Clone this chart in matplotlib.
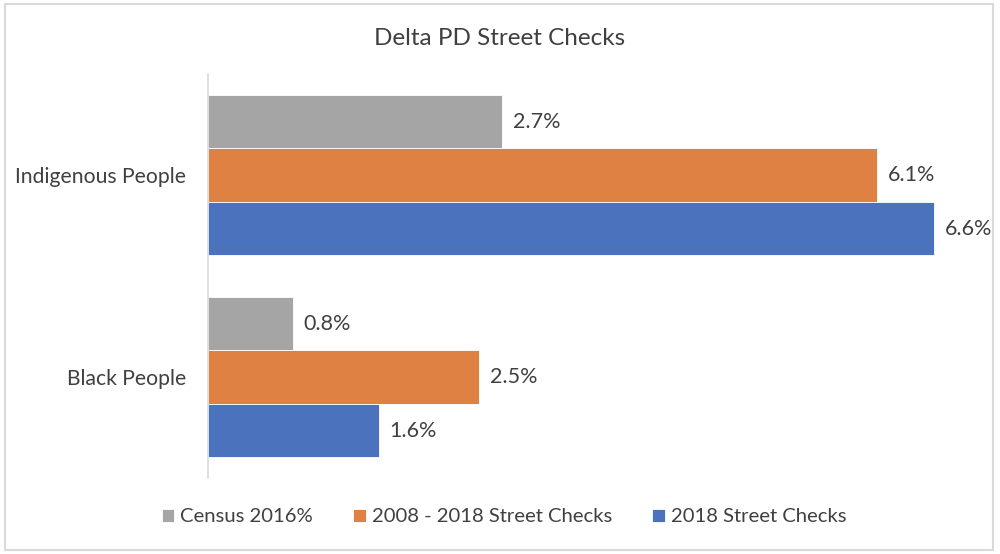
import matplotlib
matplotlib.use('Agg')
import matplotlib.pyplot as plt
import numpy as np
from matplotlib.patches import Rectangle

plt.rcParams['font.family'] = ['Lato', 'DejaVu Sans']

# data (percent)
groups = ['Indigenous People', 'Black People']
series = ['Census 2016%', '2008 - 2018 Street Checks', '2018 Street Checks']
census = [2.67, 0.77]
checks_10yr = [6.08, 2.46]
checks_2018 = [6.6, 1.55]
colors = ['#A5A5A5', '#E08144', '#4A72BD']
txt = '#404040'

fig = plt.figure(figsize=(10, 5.54), dpi=100)
ax = fig.add_axes([0.208, 0.137, 0.77, 0.729])

y = np.arange(len(groups))
h = 0.265
for k, (vals, name, c) in enumerate(zip([census, checks_10yr, checks_2018], series, colors)):
    pos = y + (k - 1) * h
    bars = ax.barh(pos, vals, height=h, color=c, edgecolor='white', linewidth=0.6, label=name)
    for b, v in zip(bars, vals):
        ax.text(v + 0.1, b.get_y() + b.get_height() / 2, f'{v:.1f}%',
                va='center', ha='left', fontsize=15.5, color=txt)

ax.set_xlim(0, 7)
ax.set_ylim(1.5, -0.5)
ax.set_yticks(y)
ax.set_yticklabels(groups, fontsize=15.2, color=txt)
ax.tick_params(axis='y', length=0, pad=16)
ax.set_xticks([])
for s in ['top', 'right', 'bottom']:
    ax.spines[s].set_visible(False)
ax.spines['left'].set_color('#D9D9D9')
ax.spines['left'].set_linewidth(1.2)

fig.text(0.5, 0.931, 'Delta PD Street Checks', ha='center', va='center',
         fontsize=17.5, color=txt)

fig.legend(loc='center', bbox_to_anchor=(0.504, 0.067), ncol=3, frameon=False,
           fontsize=14.6, labelcolor=txt, handlelength=0.6, handleheight=0.6,
           handletextpad=0.3, columnspacing=2.0)

fig.patches.append(Rectangle((0.005, 0.008), 0.988, 0.985, transform=fig.transFigure,
                             fill=False, edgecolor='#D9D9D9', linewidth=1.5))

fig.savefig('out.png', dpi=100)
